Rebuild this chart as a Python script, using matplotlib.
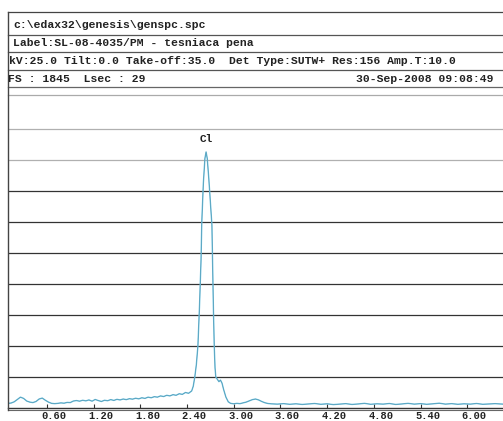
import matplotlib
matplotlib.use('Agg')
import matplotlib.pyplot as plt
from matplotlib.lines import Line2D

W, H = 503, 421

# header texts
path_text = 'c:\\edax32\\genesis\\genspc.spc'
label_text = 'Label:SL-08-4035/PM - tesniaca pena'
params_text = 'kV:25.0 Tilt:0.0 Take-off:35.0  Det Type:SUTW+ Res:156 Amp.T:10.0'
fs_text = 'FS : 1845  Lsec : 29'
date_text = '30-Sep-2008 09:08:49'

# x axis labels (keV)
tick_vals = [0.60, 1.20, 1.80, 2.40, 3.00, 3.60, 4.20, 4.80, 5.40, 6.00]

# spectrum: energy (keV) and counts
energy = [0.10, 0.14, 0.18, 0.22, 0.26, 0.30, 0.34, 0.38, 0.42, 0.46,
          0.50, 0.54, 0.58, 0.62, 0.66, 0.70, 0.74, 0.78, 0.82, 0.86,
          0.90, 0.94, 0.98, 1.02, 1.06, 1.10, 1.14, 1.18, 1.22, 1.26,
          1.30, 1.34, 1.38, 1.42, 1.46, 1.50, 1.54, 1.58, 1.62, 1.66,
          1.70, 1.74, 1.78, 1.82, 1.86, 1.90, 1.94, 1.98, 2.02, 2.06,
          2.10, 2.14, 2.18, 2.22, 2.26, 2.30, 2.34, 2.38, 2.42, 2.46,
          2.48, 2.50, 2.52, 2.54, 2.56, 2.58, 2.59, 2.61, 2.63, 2.645,
          2.66, 2.68, 2.70, 2.72, 2.73, 2.74, 2.75, 2.76, 2.77, 2.79,
          2.81, 2.83, 2.85, 2.87, 2.90, 2.93, 2.96, 3.00, 3.04, 3.08,
          3.12, 3.16, 3.20, 3.24, 3.28, 3.32, 3.36, 3.40, 3.44, 3.48,
          3.56, 3.64, 3.72, 3.80, 3.88, 3.96, 4.04, 4.12, 4.20, 4.28,
          4.36, 4.44, 4.52, 4.60, 4.68, 4.76, 4.84, 4.92, 5.00, 5.08,
          5.16, 5.24, 5.32, 5.40, 5.48, 5.56, 5.64, 5.72, 5.80, 5.88,
          5.96, 6.04, 6.12, 6.20, 6.28, 6.36, 6.46]
counts = [30, 32, 40, 55, 70, 62, 45, 38, 35, 42,
          58, 64, 50, 38, 30, 28, 30, 33, 31, 36,
          35, 45, 48, 44, 50, 46, 52, 44, 55, 48,
          42, 50, 47, 54, 49, 56, 52, 58, 54, 60,
          57, 63, 59, 66, 62, 70, 66, 73, 70, 78,
          74, 82, 78, 86, 82, 92, 88, 100, 95, 110,
          140, 200, 280, 400, 650, 950, 1200, 1450, 1610, 1652,
          1610, 1480, 1330, 1180, 900, 620, 400, 260, 200, 185,
          170, 180, 160, 120, 70, 40, 30, 27, 30, 28,
          33, 38, 46, 54, 58, 52, 42, 34, 29, 27,
          25, 28, 24, 27, 23, 26, 29, 24, 27, 22,
          25, 28, 23, 26, 30, 24, 27, 25, 29, 23,
          26, 30, 25, 28, 24, 27, 31, 25, 28, 24,
          27, 25, 29, 24, 26, 28, 25]

grid_levels = [200, 400, 600, 800, 1000, 1200, 1400, 1600, 1800]


def fx(x):
    return x / W


def fy(y):
    return 1 - y / H


fig = plt.figure(figsize=(W / 100, H / 100), dpi=100)
fig.patch.set_facecolor('white')

mono = {'family': ['Liberation Mono', 'DejaVu Sans Mono'], 'weight': 'bold'}
ink = '#222222'

# header frame lines
for yy, c in [(12, '#444444'), (35, '#555555'), (52, '#555555'),
              (70, '#555555'), (87, '#666666'), (95, '#aaaaaa')]:
    fig.add_artist(Line2D([fx(8), 1], [fy(yy), fy(yy)], color=c, lw=0.9))
fig.add_artist(Line2D([fx(8), fx(8)], [fy(12), fy(410)], color='#444444', lw=1.0))

fig.text(fx(13), fy(25), path_text, fontdict=mono, fontsize=8.2, color=ink, va='center')
fig.text(fx(13), fy(43.5), label_text, fontdict=mono, fontsize=8.2, color=ink, va='center')
fig.text(fx(9), fy(61), params_text, fontdict=mono, fontsize=8.2, color=ink, va='center')
fig.text(fx(8), fy(79), fs_text, fontdict=mono, fontsize=8.2, color=ink, va='center')
fig.text(fx(494), fy(79), date_text, fontdict=mono, fontsize=8.2, color=ink,
         va='center', ha='right')

# spectrum axes
ax = fig.add_axes([fx(8), fy(408), (W - 8) / W, 310 / H])
ax.set_xlim(0.1, 6.46)
ax.set_ylim(0, 2000)
for s in ['top', 'right', 'left']:
    ax.spines[s].set_visible(False)
ax.spines['bottom'].set_color('#333333')
ax.spines['bottom'].set_linewidth(1.0)
ax.axhline(-13, color='#666666', lw=0.8, clip_on=False)

for lv in grid_levels:
    col = '#b0b0b0' if lv >= 1600 else '#333333'
    ax.axhline(lv, color=col, lw=0.9, zorder=1)

ax.plot(energy, counts, color='#6cc0de', lw=1.0, zorder=3)
ax.plot(energy, counts, color='#3d6f85', lw=0.4, alpha=0.5, zorder=4)

ax.text(2.645, 1700, 'Cl', fontdict=mono, fontsize=8, color=ink, ha='center', va='bottom')

ax.set_yticks([])
ax.set_xticks(tick_vals)
ax.set_xticklabels([])
ax.tick_params(axis='x', direction='in', length=3, color='#333333', width=0.8)
for t in tick_vals:
    ax.text(t + 0.09, -0.025, f'{t:.2f}', transform=ax.get_xaxis_transform(),
            fontdict=mono, fontsize=7.5, color=ink, ha='center', va='center')

fig.savefig('out.png', dpi=100, facecolor='white')
